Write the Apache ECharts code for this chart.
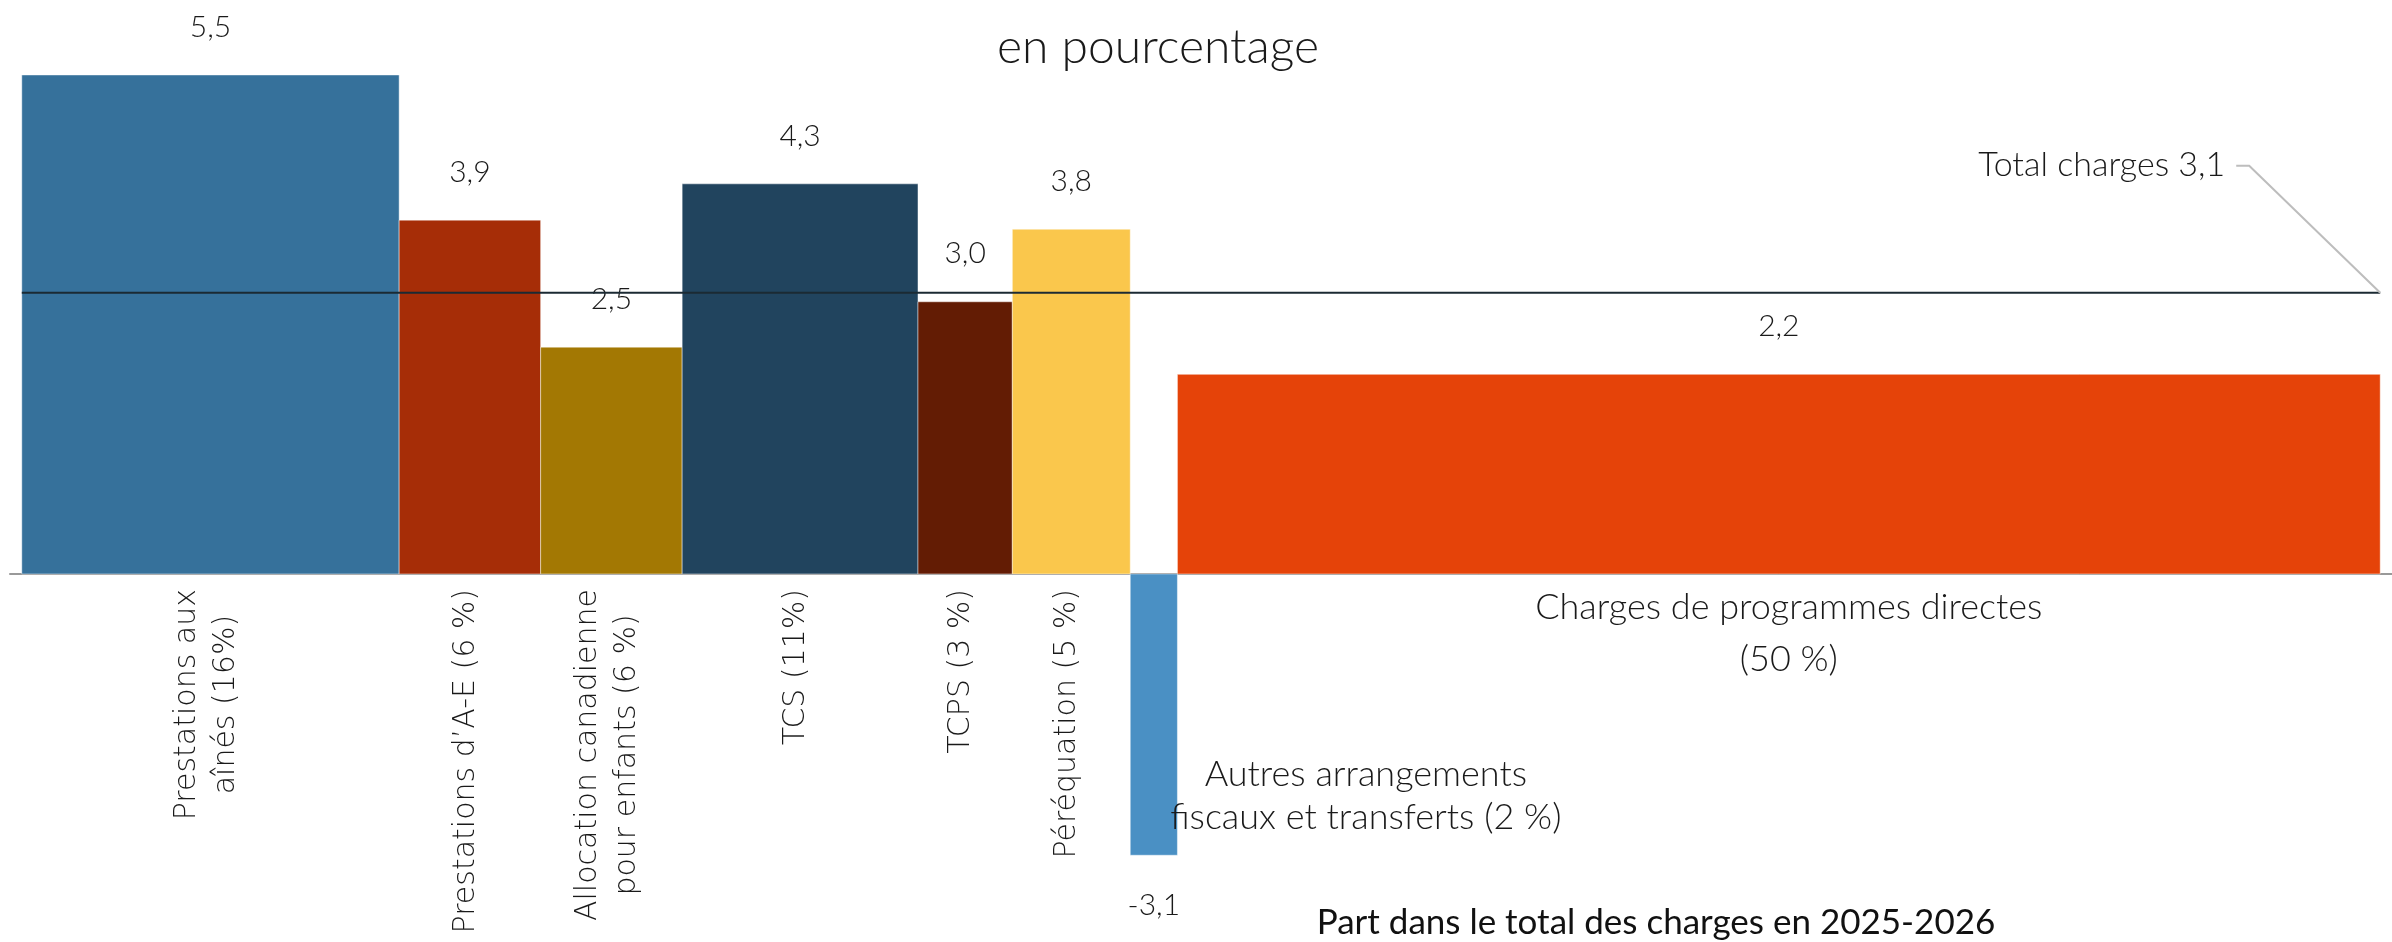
<!DOCTYPE html>
<html>
<head>
<meta charset="utf-8">
<script src="https://cdn.jsdelivr.net/npm/echarts@6/dist/echarts.min.js"></script>
<style>
  html, body { margin: 0; padding: 0; background: #fff; }
  #main { width: 2392px; height: 942px; }
</style>
</head>
<body>
<div id="main"></div>
<script>
var categories = [
    'Prestations aux\naînés (16%)',
    'Prestations d’A-E (6 %)',
    'Allocation canadienne\npour enfants (6 %)',
    'TCS (11%)',
    'TCPS (3 %)',
    'Péréquation (5 %)',
    'Autres arrangements\nfiscaux et transferts (2 %)',
    'Charges de programmes directes\n(50 %)'
];
// share of total expenses (bar widths)
var shares = [16, 6, 6, 10, 4, 5, 2, 51];
// average annual growth, in percent (bar heights)
var growth = [5.5, 3.9, 2.5, 4.3, 3.0, 3.8, -3.1, 2.2];
var colors = ['#36719b', '#a62d07', '#a37803', '#21445e', '#631c04', '#fac74c', '#4a90c4', '#e54309'];
var totalGrowth = 3.1;
var totalLabel = 'Total charges';

function fmt(v) {
    return v.toFixed(1).replace('.', ',');
}

// cumulative positions
var barData = [];
var acc = 0;
for (var i = 0; i < shares.length; i++) {
    barData.push([acc, acc + shares[i], growth[i], i]);
    acc += shares[i];
}

var measureCtx = document.createElement('canvas').getContext('2d');
function longestLine(text, font) {
    measureCtx.font = font;
    var w = 0;
    text.split('\n').forEach(function (s) {
        w = Math.max(w, measureCtx.measureText(s).width);
    });
    return w;
}

var rotFont = { size: 30, family: 'DejaVu Sans', weight: 200, lh: 39 };
var numFont = { size: 30, family: 'Lato', weight: 300 };

function renderItem(params, api) {
    var i = api.value(3);
    var p0 = api.coord([api.value(0), api.value(2)]);
    var p1 = api.coord([api.value(1), 0]);
    var top = Math.min(p0[1], p1[1]);
    var bottom = Math.max(p0[1], p1[1]);
    var axisY = p1[1];
    var cx = (p0[0] + p1[0]) / 2;
    var v = api.value(2);
    var children = [{
        type: 'rect',
        shape: { x: p0[0], y: top, width: p1[0] - p0[0], height: bottom - top },
        style: { fill: colors[i], stroke: 'rgba(255,255,255,0.45)', lineWidth: 1 }
    }, {
        type: 'text',
        x: cx,
        y: v >= 0 ? top - 48 : bottom + 50,
        style: {
            text: fmt(v), fontSize: numFont.size, fontFamily: numFont.family, fontWeight: numFont.weight,
            fill: '#1a1a1a', align: 'center', verticalAlign: 'middle'
        }
    }];
    var txt = categories[i];
    if (i < 6) {
        var L = longestLine(txt, rotFont.weight + ' ' + rotFont.size + 'px "' + rotFont.family + '"');
        children.push({
            type: 'text',
            x: cx - 4,
            y: axisY + 15 + L / 2,
            rotation: Math.PI / 2,
            style: {
                text: txt, fontSize: rotFont.size, fontFamily: rotFont.family, fontWeight: rotFont.weight,
                lineHeight: rotFont.lh, fill: '#1a1a1a', align: 'center', verticalAlign: 'middle'
            }
        });
    } else if (i === 6) {
        children.push({
            type: 'text',
            x: cx + 212,
            y: axisY + 222,
            style: {
                text: txt, fontSize: 36, fontFamily: 'Lato', fontWeight: 300, lineHeight: 43,
                fill: '#1a1a1a', align: 'center', verticalAlign: 'middle'
            }
        });
    } else {
        children.push({
            type: 'text',
            x: cx + 10,
            y: axisY + 59,
            style: {
                text: txt, fontSize: 36, fontFamily: 'Lato', fontWeight: 300, lineHeight: 52,
                fill: '#1a1a1a', align: 'center', verticalAlign: 'middle'
            }
        });
    }
    return { type: 'group', children: children };
}

var chart = echarts.init(document.getElementById('main'));

var option = {
    animation: false,
    backgroundColor: '#fff',
    title: [{
        text: 'en pourcentage',
        left: 1153,
        top: 19,
        textAlign: 'center',
        textStyle: { fontFamily: 'Lato', fontWeight: 300, fontSize: 48, color: '#1a1a1a' }
    }, {
        text: 'Part dans le total des charges en 2025-2026',
        left: 1651,
        top: 900,
        textAlign: 'center',
        textStyle: { fontFamily: 'Lato', fontWeight: 400, fontSize: 35, color: '#111' }
    }],
    grid: { left: 10, right: 0, top: 29.6, bottom: 5.1 },
    xAxis: {
        type: 'value',
        min: -0.5,
        max: 100.5,
        axisLine: { show: true, onZero: true, lineStyle: { color: '#999', width: 2 } },
        axisTick: { show: false },
        axisLabel: { show: false },
        splitLine: { show: false }
    },
    yAxis: {
        type: 'value',
        min: -4,
        max: 6,
        show: false,
        splitLine: { show: false }
    },
    series: [{
        type: 'custom',
        renderItem: renderItem,
        data: barData,
        encode: { x: [0, 1], y: 2 },
        z: 2
    }, {
        type: 'line',
        data: [[0, totalGrowth], [100, totalGrowth]],
        symbol: 'none',
        lineStyle: { color: '#1b2a33', width: 2 },
        z: 5
    }]
};

chart.setOption(option);

// leader line + label for the total
var end = chart.convertToPixel({ gridIndex: 0 }, [100, totalGrowth]);
chart.setOption({
    graphic: [{
        type: 'polyline',
        shape: { points: [[end[0], end[1]], [end[0] - 131, end[1] - 127], [end[0] - 144, end[1] - 127]] },
        style: { stroke: '#bdbdbd', lineWidth: 2, fill: null },
        z: 10
    }, {
        type: 'text',
        x: end[0] - 155,
        y: end[1] - 128,
        style: {
            text: totalLabel + ' ' + fmt(totalGrowth),
            fontFamily: 'Lato', fontWeight: 300, fontSize: 34, fill: '#1a1a1a',
            align: 'right', verticalAlign: 'middle'
        },
        z: 10
    }]
});

window.addEventListener('resize', function () {
    chart.resize();
});
</script>
</body>
</html>
